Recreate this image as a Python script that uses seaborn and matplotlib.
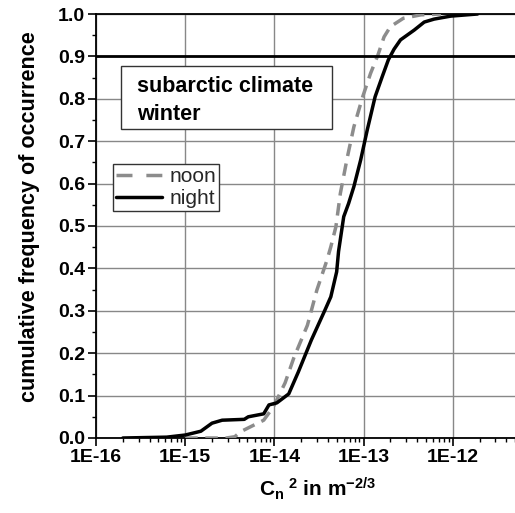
import numpy as np
import pandas as pd
import matplotlib
matplotlib.use("Agg")
import matplotlib.pyplot as plt
import matplotlib.ticker as mticker
from matplotlib.patches import Rectangle
import seaborn as sns

# ---- data ----
night_x = [2.0e-16, 6.2e-16, 1.0e-15, 1.5e-15, 2.0e-15, 2.6e-15, 4.6e-15, 5.1e-15,
           7.6e-15, 8.7e-15, 1.07e-14, 1.45e-14, 1.86e-14, 2.6e-14, 3.7e-14, 4.3e-14,
           5.0e-14, 5.25e-14, 6.0e-14, 6.8e-14, 7.8e-14, 9.3e-14, 1.1e-13, 1.35e-13,
           1.62e-13, 1.9e-13, 2.2e-13, 2.6e-13, 3.7e-13, 4.8e-13, 6.2e-13, 9.5e-13, 1.9e-12]
night_y = [0.0, 0.002, 0.007, 0.016, 0.035, 0.042, 0.044, 0.05, 0.057, 0.078, 0.083,
           0.104, 0.156, 0.231, 0.302, 0.333, 0.392, 0.44, 0.522, 0.553, 0.593, 0.656,
           0.726, 0.805, 0.852, 0.892, 0.917, 0.939, 0.962, 0.981, 0.988, 0.995, 1.0]

noon_x = [1.0e-15, 2.9e-15, 3.6e-15, 4.2e-15, 7.6e-15, 9.8e-15, 1.32e-14, 1.66e-14,
          2.35e-14, 3.0e-14, 3.9e-14, 4.3e-14, 4.9e-14, 5.5e-14, 6.6e-14, 7.8e-14,
          9.8e-14, 1.2e-13, 1.45e-13, 1.7e-13, 2.0e-13, 2.8e-13, 4.4e-13, 7.4e-13]
noon_y = [0.0, 0.0, 0.003, 0.015, 0.042, 0.074, 0.13, 0.19, 0.266, 0.349, 0.42, 0.451,
          0.498, 0.577, 0.663, 0.734, 0.805, 0.86, 0.903, 0.946, 0.97, 0.99, 0.998, 1.0]

x_ticks = [1e-16, 1e-15, 1e-14, 1e-13, 1e-12]
x_tick_labels = ["1E-16", "1E-15", "1E-14", "1E-13", "1E-12"]
y_ticks = [0.0, 0.1, 0.2, 0.3, 0.4, 0.5, 0.6, 0.7, 0.8, 0.9, 1.0]
threshold = 0.9
box_lines = ["subarctic climate", "winter"]

sns.set_theme(style="ticks")
plt.rcParams["font.family"] = ["Liberation Sans", "DejaVu Sans"]
plt.rcParams["mathtext.fontset"] = "custom"
plt.rcParams["mathtext.rm"] = "Liberation Sans:bold"
plt.rcParams["mathtext.bf"] = "Liberation Sans:bold"
plt.rcParams["mathtext.it"] = "Liberation Sans:bold"
plt.rcParams["mathtext.default"] = "rm"

W, H = 515, 513
fig = plt.figure(figsize=(W / 100, H / 100), dpi=100)
ax = fig.add_axes([96 / W, (H - 438) / H, 1 - 96 / W, (438 - 14) / H])

df_noon = pd.DataFrame({"x": noon_x, "y": noon_y})
df_night = pd.DataFrame({"x": night_x, "y": night_y})

sns.lineplot(data=df_noon, x="x", y="y", ax=ax, color="#8c8c8c", lw=2.5,
             estimator=None, sort=False, label="noon", zorder=3)
ax.lines[-1].set_dashes([3.6, 2.2])
sns.lineplot(data=df_night, x="x", y="y", ax=ax, color="black", lw=2.5,
             estimator=None, sort=False, label="night", zorder=4)

ax.axhline(threshold, color="black", lw=2.0, zorder=5)

ax.set_xscale("log")
ax.set_xlim(1e-16, 5e-12)
ax.set_ylim(0, 1.0)

ax.set_xticks(x_ticks)
ax.set_xticklabels(x_tick_labels)
ax.xaxis.set_minor_locator(mticker.LogLocator(base=10, subs=np.arange(2, 10), numticks=20))
ax.xaxis.set_minor_formatter(mticker.NullFormatter())
ax.set_yticks(y_ticks)
ax.set_yticklabels([f"{v:.1f}" for v in y_ticks])
ax.yaxis.set_minor_locator(mticker.MultipleLocator(0.05))

ax.grid(True, which="major", color="#888888", lw=1.0)
ax.set_axisbelow(True)

for s in ["left", "bottom", "top"]:
    ax.spines[s].set_visible(True)
    ax.spines[s].set_color("black")
    ax.spines[s].set_linewidth(1.3)
ax.spines["right"].set_visible(False)

ax.tick_params(axis="both", which="major", direction="out", length=6, width=1.2,
               color="black", labelsize=14, pad=2)
ax.tick_params(axis="both", which="minor", direction="out", length=3, width=1.0,
               color="black")
for lab in ax.get_xticklabels() + ax.get_yticklabels():
    lab.set_fontweight("bold")
    lab.set_color("black")

ax.set_xlabel("C$_{n}$$^{\\ 2}$ in m$^{-2/3}$", fontsize=15, fontweight="bold",
              color="black")
ax.xaxis.set_label_coords((318 - 96) / 419, (438 - 476) / 424)
ax.set_ylabel("cumulative frequency of occurrence", fontsize=15.5, fontweight="bold",
              color="black")
ax.yaxis.set_label_coords((40 - 96) / 419, (438 - 217) / 424)

# annotation box
ax.add_patch(Rectangle((121 / W, 1 - 129 / H), (332 - 121) / W, (129 - 66) / H,
                       transform=fig.transFigure, facecolor="white", edgecolor="#333333",
                       lw=1.0, zorder=5.5, clip_on=False))
for txt, base in zip(box_lines, [92, 120]):
    ax.text(137 / W, 1 - base / H, txt, transform=fig.transFigure,
            fontsize=15.5, fontweight="bold", color="black", va="baseline", ha="left",
            zorder=6)

leg = ax.legend(loc="upper left", bbox_to_anchor=((113 - 96) / 419, 1 - (164 - 14) / 424),
                frameon=True, fancybox=False, edgecolor="#333333", framealpha=1,
                fontsize=15, handlelength=2.2, handletextpad=0.35, borderpad=0.15,
                labelspacing=0.15, borderaxespad=0)
leg.get_frame().set_linewidth(1.0)
leg.get_lines()[0].set_dashes([4.6, 4.0])
leg.set_zorder(7)

fig.savefig("out.png", dpi=100)
